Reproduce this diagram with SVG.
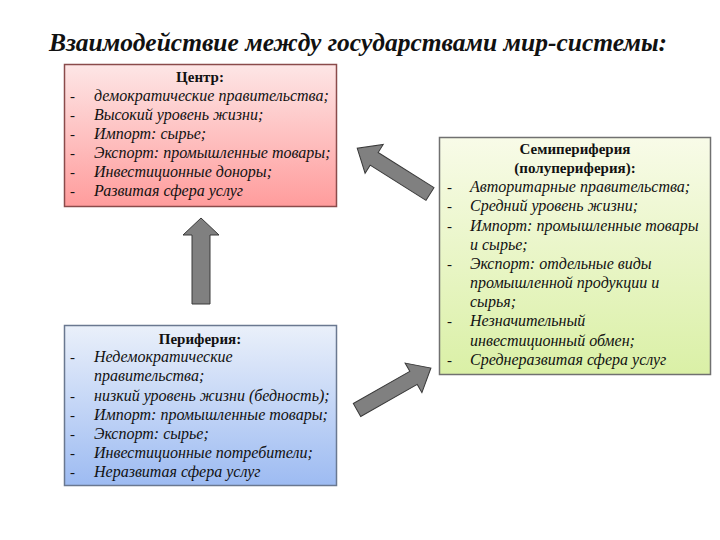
<svg xmlns="http://www.w3.org/2000/svg" width="720" height="540" viewBox="0 0 720 540">
<defs>
<linearGradient id="gPink" x1="0" y1="0" x2="0" y2="1"><stop offset="0" stop-color="#fde6e6"/><stop offset="1" stop-color="#ff9c9c"/></linearGradient>
<linearGradient id="gBlue" x1="0" y1="0" x2="0" y2="1"><stop offset="0" stop-color="#eaf0fa"/><stop offset="1" stop-color="#9dbbf2"/></linearGradient>
<linearGradient id="gGreen" x1="0" y1="0" x2="0" y2="1"><stop offset="0" stop-color="#f8fbe8"/><stop offset="1" stop-color="#daf0a6"/></linearGradient>
</defs>
<style>
text{font-family:"Liberation Serif","DejaVu Serif",serif;fill:#111;}
.t{font-size:25.5px;font-weight:bold;font-style:italic;}
.h{font-size:15px;font-weight:bold;text-anchor:middle;}
.i{font-size:16px;font-style:italic;}
.d{font-size:15px;}
.arr{fill:#808080;stroke:#3a3a3a;stroke-width:1;}
</style>
<text class="t" x="358" y="51" text-anchor="middle">Взаимодействие между государствами мир-системы:</text>
<g id="center">
<rect x="64.5" y="64.5" width="272" height="142" fill="url(#gPink)" stroke="#8a4b4b" stroke-width="1.5"/>
<text class="h" x="200" y="82">Центр:</text>
<text class="d" x="70" y="101">-</text><text class="i" x="94" y="101">демократические правительства;</text>
<text class="d" x="70" y="120">-</text><text class="i" x="94" y="120">Высокий уровень жизни;</text>
<text class="d" x="70" y="139">-</text><text class="i" x="94" y="139">Импорт: сырье;</text>
<text class="d" x="70" y="158">-</text><text class="i" x="94" y="158">Экспорт: промышленные товары;</text>
<text class="d" x="70" y="177">-</text><text class="i" x="94" y="177">Инвестиционные доноры;</text>
<text class="d" x="70" y="196">-</text><text class="i" x="94" y="196">Развитая сфера услуг</text>
</g>
<g id="periphery">
<rect x="64.5" y="325.5" width="272" height="160" fill="url(#gBlue)" stroke="#6a7890" stroke-width="1.5"/>
<text class="h" x="200" y="344">Периферия:</text>
<text class="d" x="70" y="362">-</text><text class="i" x="94" y="362">Недемократические</text>
<text class="i" x="94" y="381">правительства;</text>
<text class="d" x="70" y="401">-</text><text class="i" x="94" y="401">низкий уровень жизни (бедность);</text>
<text class="d" x="70" y="420">-</text><text class="i" x="94" y="420">Импорт: промышленные товары;</text>
<text class="d" x="70" y="439">-</text><text class="i" x="94" y="439">Экспорт: сырье;</text>
<text class="d" x="70" y="458">-</text><text class="i" x="94" y="458">Инвестиционные потребители;</text>
<text class="d" x="70" y="477">-</text><text class="i" x="94" y="477">Неразвитая сфера услуг</text>
</g>
<g id="semiperiphery">
<rect x="439.5" y="137.5" width="271" height="237" fill="url(#gGreen)" stroke="#707070" stroke-width="1.5"/>
<text class="h" x="575" y="154">Семипериферия</text>
<text class="h" x="575" y="173">(полупериферия):</text>
<text class="d" x="447" y="192">-</text><text class="i" x="470" y="192">Авторитарные правительства;</text>
<text class="d" x="447" y="211">-</text><text class="i" x="470" y="211">Средний уровень жизни;</text>
<text class="d" x="447" y="231">-</text><text class="i" x="470" y="231">Импорт: промышленные товары</text>
<text class="i" x="470" y="250">и сырье;</text>
<text class="d" x="447" y="269">-</text><text class="i" x="470" y="269">Экспорт: отдельные виды</text>
<text class="i" x="470" y="288">промышленной продукции и</text>
<text class="i" x="470" y="307">сырья;</text>
<text class="d" x="447" y="326">-</text><text class="i" x="470" y="326">Незначительный</text>
<text class="i" x="470" y="346">инвестиционный обмен;</text>
<text class="d" x="447" y="365">-</text><text class="i" x="470" y="365">Среднеразвитая сфера услуг</text>
</g>
<g id="connectors">
<polygon class="arr" points="192,304 192,235 183,235 201,218 219,235 210,235 210,304"/>
<polygon class="arr" transform="translate(430,194) rotate(212.2)" points="0,-7.5 66,-7.5 66,-17 86,0 66,17 66,7.5 0,7.5"/>
<polygon class="arr" transform="translate(357,410) rotate(-29.6)" points="0,-7.5 65,-7.5 65,-17 85,0 65,17 65,7.5 0,7.5"/>
</g>
</svg>
